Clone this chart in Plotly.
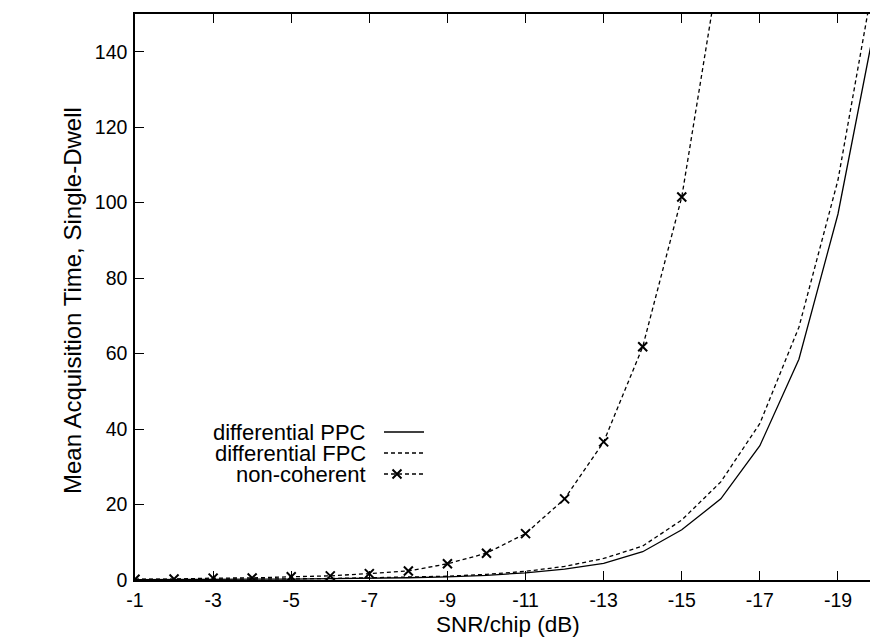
import plotly.graph_objects as go

# ---------------- data ----------------
snr_db = [-1, -2, -3, -4, -5, -6, -7, -8, -9, -10, -11, -12, -13, -14, -15, -16, -17, -18, -19, -20]

ppc_time = [0.10, 0.10, 0.15, 0.20, 0.25, 0.35, 0.45, 0.60, 0.85, 1.25,
            1.9, 2.9, 4.4, 7.5, 13.3, 21.5, 35.6, 58.5, 97.0, 150.0]

fpc_time = [0.15, 0.15, 0.20, 0.25, 0.30, 0.40, 0.55, 0.75, 1.0, 1.5,
            2.3, 3.6, 5.7, 9.0, 15.9, 26.0, 41.5, 67.0, 106.0, 164.0]

noncoh_snr = [-1, -2, -3, -4, -5, -6, -7, -8, -9, -10, -11, -12, -13, -14, -15, -16]
noncoh_time = [0.2, 0.25, 0.5, 0.55, 0.85, 1.1, 1.7, 2.4, 4.3, 7.1,
               12.3, 21.5, 36.6, 61.8, 101.5, 165.0]

series_names = ["differential PPC", "differential FPC", "non-coherent"]

x_tickvals = [-1, -3, -5, -7, -9, -11, -13, -15, -17, -19]
x_ticktext = ["-1", "-3", "-5", "-7", "-9", "-11", "-13", "-15", "-17", "-19"]
y_tickvals = [0, 20, 40, 60, 80, 100, 120, 140]

x_title = "SNR/chip (dB)"
y_title = "Mean Acquisition Time, Single-Dwell"

# ---------------- style ----------------
FONT = "Liberation Sans, Arial, Helvetica, sans-serif"
FS_TICK = 19.5
FS_XT = 22.5
FS_YT = 24
FS_LEG = 22
W, H = 870, 637
ML, MR, MT, MB = 135, 0, 14, 57
PW, PH = W - ML - MR, H - MT - MB
LW = 1.3
DASH = "4px,3px"


def paper_x(px):
    return (px - ML) / PW


def paper_y(py):
    return (H - MB - py) / PH


fig = go.Figure()

fig.add_trace(go.Scatter(x=snr_db, y=ppc_time, mode="lines", name=series_names[0],
                         line=dict(color="black", width=LW), showlegend=False))
fig.add_trace(go.Scatter(x=snr_db, y=fpc_time, mode="lines", name=series_names[1],
                         line=dict(color="black", width=LW, dash=DASH), showlegend=False))
fig.add_trace(go.Scatter(x=noncoh_snr, y=noncoh_time, mode="lines+markers", name=series_names[2],
                         line=dict(color="black", width=LW, dash=DASH),
                         marker=dict(symbol="x-thin", size=9, line=dict(color="black", width=2)),
                         showlegend=False))

# ---------------- manual legend (text left, sample right) + titles ----------------
leg_rows_y = [432, 453, 474]
leg_text_right = 368
leg_sample = (384, 424)
leg_marker_x = 397
xtitle_pos = (508, 624)
ytitle_pos = (72, 301)

px_x = dict(range=[ML, W - MR], visible=False, fixedrange=True)
px_y = dict(range=[H - MB, MT], visible=False, fixedrange=True)

styles = [dict(color="black", width=LW), dict(color="black", width=LW, dash=DASH),
          dict(color="black", width=LW, dash=DASH)]
for i, name in enumerate(series_names):
    yy = leg_rows_y[i]
    fig.add_trace(go.Scatter(x=list(leg_sample), y=[yy, yy], mode="lines", line=styles[i],
                             xaxis="x2", yaxis="y2", showlegend=False, hoverinfo="skip"))
    fig.add_annotation(x=leg_text_right, y=yy, xref="x2", yref="y2", text=name,
                       showarrow=False, xanchor="right", yanchor="middle",
                       font=dict(family=FONT, size=FS_LEG, color="black"))
fig.add_trace(go.Scatter(x=[leg_marker_x], y=[leg_rows_y[2]], mode="markers",
                         marker=dict(symbol="x-thin", size=9, line=dict(color="black", width=2)),
                         xaxis="x2", yaxis="y2", showlegend=False, hoverinfo="skip"))

fig.add_annotation(x=paper_x(xtitle_pos[0]), y=paper_y(xtitle_pos[1]), xref="paper", yref="paper",
                   text=x_title, showarrow=False, xanchor="center", yanchor="middle", borderpad=0,
                   font=dict(family=FONT, size=FS_XT, color="black"))
fig.add_annotation(x=paper_x(ytitle_pos[0]), y=paper_y(ytitle_pos[1]), xref="paper", yref="paper",
                   text=y_title, textangle=-90, showarrow=False, xanchor="center", yanchor="middle",
                   font=dict(family=FONT, size=FS_YT, color="black"))

axis_common = dict(showgrid=False, zeroline=False, linecolor="black", linewidth=1.5,
                   ticks="inside", ticklen=9, tickwidth=1.3, tickcolor="black",
                   automargin=False,
                   tickfont=dict(family=FONT, size=FS_TICK, color="black"))

fig.update_layout(
    width=W, height=H,
    margin=dict(l=ML, r=MR, t=MT, b=MB, pad=0),
    paper_bgcolor="white", plot_bgcolor="white",
    showlegend=False,
    xaxis=dict(range=[-1, -19.82], tickvals=x_tickvals, ticktext=x_ticktext, mirror="allticks",
               ticklabelstandoff=2, **axis_common),
    yaxis=dict(range=[0, 150], tickvals=y_tickvals, mirror=False, ticklabelstandoff=2,
               **axis_common),
    xaxis2=dict(overlaying="x", anchor="y2", **px_x),
    yaxis2=dict(overlaying="y", anchor="x2", **px_y),
)

fig.write_html("out.html", config={"displayModeBar": False},
               post_script="document.body.style.margin='0';document.body.style.overflow='hidden';")
